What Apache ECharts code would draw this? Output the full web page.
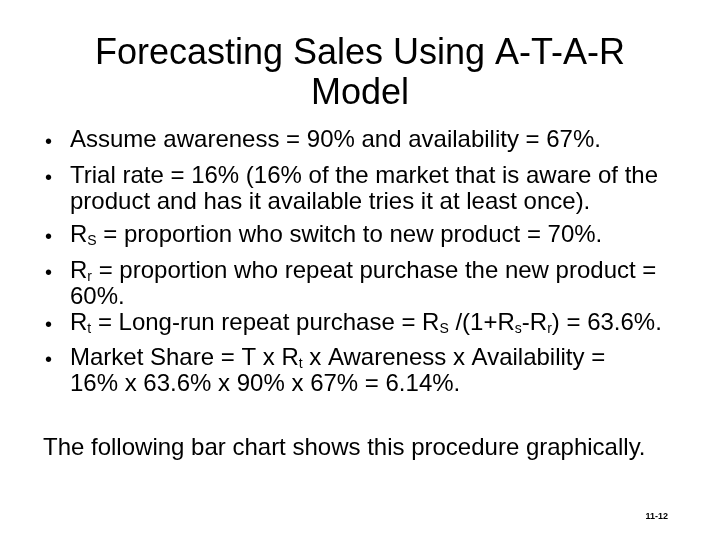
<!DOCTYPE html>
<html><head><meta charset="utf-8">
<script src="https://cdn.jsdelivr.net/npm/echarts@6/dist/echarts.min.js"></script>
<style>html,body{margin:0;padding:0;background:#fff}#c{width:720px;height:540px}</style>
</head><body><div id="c"></div>
<script>
const titleLines = ['Forecasting Sales Using A-T-A-R', 'Model'];
// each bullet: array of wrapped rows; {s|x} marks a subscript
const bullets = [
  ['Assume awareness = 90% and availability = 67%.'],
  ['Trial rate = 16% (16% of the market that is aware of the', 'product and has it available tries it at least once).'],
  ['R{s|S} = proportion who switch to new product = 70%.'],
  ['R{s|r} = proportion who repeat purchase the new product =', '60%.'],
  ['R{s|t} = Long-run repeat purchase = R{s|S} /(1+R{s|s}-R{s|r}) = 63.6%.'],
  ['Market Share = T x R{s|t} x Awareness x Availability =', '16% x 63.6% x 90% x 67% = 6.14%.']
];
const footnote = 'The following bar chart shows this procedure graphically.';
const pageNumber = '11-12';

const FONT = '"Liberation Sans", Arial, sans-serif';
const bulletTops = [128, 164, 223, 259, 311, 346];
const rowStep = 26;
const elements = [];
const titleTops = [36, 76];
titleLines.forEach((t, i) => {
  elements.push({type: 'text', left: 'center', top: titleTops[i],
    style: {text: t, font: '36px ' + FONT, fill: '#000'}});
});
const rich = {
  m: {fontSize: 24, fontFamily: FONT, lineHeight: 26, verticalAlign: 'middle', fill: '#000'},
  s: {fontSize: 14, fontFamily: FONT, lineHeight: 13, verticalAlign: 'bottom', fill: '#000'}
};
function toRich(str) {
  const parts = str.split(/(\{s\|[^}]*\})/);
  return parts.filter(p => p.length).map(p => p.startsWith('{s|') ? p : '{m|' + p + '}').join('');
}
bullets.forEach((rows, i) => {
  elements.push({type: 'text', left: 45, top: bulletTops[i] + 4,
    style: {text: '•', font: '20px ' + FONT, fill: '#000'}});
  rows.forEach((r, j) => {
    elements.push({type: 'text', left: 70, top: bulletTops[i] + j * rowStep,
      style: {text: toRich(r), rich: rich, fill: '#000'}});
  });
});
elements.push({type: 'text', left: 43, top: 436,
  style: {text: footnote, font: '24px ' + FONT, fill: '#000'}});
elements.push({type: 'text', right: 52, top: 512,
  style: {text: pageNumber, font: 'bold 9px ' + FONT, fill: '#000'}});

const chart = echarts.init(document.getElementById('c'));
chart.setOption({backgroundColor: '#fff', animation: false, graphic: {elements}});
</script></body></html>
